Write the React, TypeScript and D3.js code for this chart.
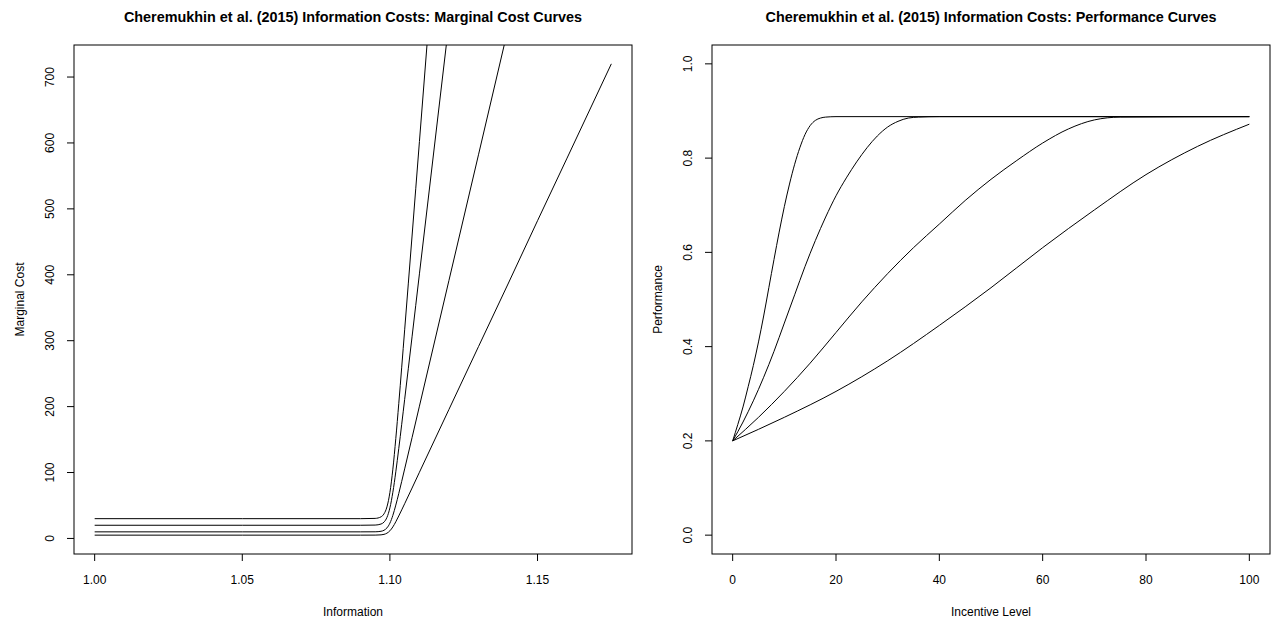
import React from "react";
import * as d3 from "d3";

// ---- Left panel data: marginal cost vs information ----
const infoGrid = [1.0, 1.05, 1.09, 1.095, 1.097, 1.098, 1.099, 1.1, 1.101, 1.102, 1.103, 1.105, 1.11, 1.12, 1.13, 1.14, 1.15, 1.16, 1.175];
const mcCurve5 = [5, 5, 5, 5.06, 5.46, 6.21, 7.99, 11.6, 17.5, 25.3, 34.1, 52.7, 100.4, 195.7, 291, 386, 482, 577, 720];
const mcCurve10 = [10, 10, 10, 10.1, 10.9, 12.4, 16.0, 23.2, 35.0, 50.6, 68.1, 105.5, 200.7, 391.4, 582, 773, 963, 1154, 1440];
const mcCurve20 = [20, 20, 20, 20.3, 21.9, 24.8, 31.9, 46.4, 70.1, 101.1, 136.3, 211, 401.4, 782.8, 1164, 1546, 1927, 2308, 2880];
const mcCurve30 = [30, 30, 30, 30.4, 32.8, 37.3, 47.9, 69.7, 105.1, 151.7, 204.4, 316.5, 602.1, 1174, 1746, 2318, 2890, 3462, 4320];
const infoTicks = [1.0, 1.05, 1.1, 1.15];
const mcTicks = [0, 100, 200, 300, 400, 500, 600, 700];

// ---- Right panel data: performance vs incentive ----
const perf1X = [0, 1, 2, 3, 4, 5, 6, 7, 8, 9, 10, 11, 12, 13, 14, 15, 16, 17, 18, 20, 100];
const perf1Y = [0.2, 0.235, 0.272, 0.315, 0.36, 0.41, 0.465, 0.525, 0.585, 0.643, 0.697, 0.745, 0.787, 0.822, 0.85, 0.869, 0.88, 0.885, 0.887, 0.888, 0.888];
const perf2X = [0, 2, 4, 6, 8, 10, 12, 14, 16, 18, 20, 22, 24, 26, 28, 30, 32, 34, 36, 40, 100];
const perf2Y = [0.2, 0.24, 0.285, 0.335, 0.39, 0.45, 0.51, 0.57, 0.625, 0.675, 0.72, 0.758, 0.792, 0.822, 0.847, 0.866, 0.878, 0.885, 0.887, 0.888, 0.888];
const perf3X = [0, 5, 10, 15, 20, 25, 30, 35, 40, 45, 50, 55, 60, 65, 70, 75, 100];
const perf3Y = [0.2, 0.25, 0.305, 0.365, 0.43, 0.495, 0.555, 0.61, 0.66, 0.71, 0.755, 0.795, 0.832, 0.862, 0.881, 0.887, 0.888];
const perf4X = [0, 10, 20, 30, 40, 50, 60, 70, 80, 90, 100];
const perf4Y = [0.2, 0.25, 0.305, 0.37, 0.445, 0.525, 0.61, 0.69, 0.765, 0.825, 0.872];
const incTicks = [0, 20, 40, 60, 80, 100];
const perfTicks = [0, 0.2, 0.4, 0.6, 0.8, 1.0];

const FONT = "'Liberation Sans', Arial, Helvetica, sans-serif";
const TOP = 45;
const BOTTOM = 554;

type PanelProps = {
  id: string;
  left: number;
  right: number;
  xDomain: [number, number];
  yDomain: [number, number];
  xTicks: number[];
  yTicks: number[];
  xFmt: (v: number) => string;
  yFmt: (v: number) => string;
  title: string;
  xLabel: string;
  yLabel: string;
  series: { x: number[]; y: number[] }[];
};

function Panel(p: PanelProps) {
  const x = d3.scaleLinear().domain(p.xDomain).range([p.left, p.right]);
  const y = d3.scaleLinear().domain(p.yDomain).range([BOTTOM, TOP]);
  const line = d3
    .line<[number, number]>()
    .x((d) => x(d[0]))
    .y((d) => y(d[1]))
    .curve(d3.curveMonotoneX);
  const cx = (p.left + p.right) / 2;
  const cy = (TOP + BOTTOM) / 2;
  return (
    <g fontFamily={FONT}>
      <defs>
        <clipPath id={p.id}>
          <rect x={p.left} y={TOP} width={p.right - p.left} height={BOTTOM - TOP} />
        </clipPath>
      </defs>
      <text x={cx} y={22} textAnchor="middle" fontWeight="bold" fontSize={14.4} fill="#000">
        {p.title}
      </text>
      <g clipPath={`url(#${p.id})`}>
        {p.series.map((s, i) => (
          <path
            key={i}
            d={line(s.x.map((v, j) => [v, s.y[j]] as [number, number])) || ""}
            fill="none"
            stroke="#000"
            strokeWidth={1}
          />
        ))}
      </g>
      <rect x={p.left} y={TOP} width={p.right - p.left} height={BOTTOM - TOP} fill="none" stroke="#000" strokeWidth={1} />
      {p.xTicks.map((t) => (
        <g key={"x" + t}>
          <line x1={x(t)} x2={x(t)} y1={BOTTOM} y2={BOTTOM + 7} stroke="#000" />
          <text x={x(t)} y={BOTTOM + 30} textAnchor="middle" fontSize={12} fill="#000">
            {p.xFmt(t)}
          </text>
        </g>
      ))}
      {p.yTicks.map((t) => (
        <g key={"y" + t}>
          <line x1={p.left - 7} x2={p.left} y1={y(t)} y2={y(t)} stroke="#000" />
          <text
            transform={`translate(${p.left - 24.5},${y(t)}) rotate(-90)`}
            textAnchor="middle"
            dominantBaseline="central"
            fontSize={12}
            fill="#000"
          >
            {p.yFmt(t)}
          </text>
        </g>
      ))}
      <text x={cx} y={BOTTOM + 62} textAnchor="middle" fontSize={12} fill="#000">
        {p.xLabel}
      </text>
      <text
        transform={`translate(${p.left - 54},${cy}) rotate(-90)`}
        textAnchor="middle"
        dominantBaseline="central"
        fontSize={12}
        fill="#000"
      >
        {p.yLabel}
      </text>
    </g>
  );
}

export default function App() {
  const infoRange = 1.175 - 1.0;
  const mcMin = 5;
  const mcMax = 720;
  const mcR = mcMax - mcMin;
  return (
    <svg
      width={1276}
      height={624}
      style={{ position: "absolute", left: 0, top: 0, background: "#fff" }}
    >
      <rect width={1276} height={624} fill="#fff" />
      <Panel
        id="clipL"
        left={74}
        right={632}
        xDomain={[1.0 - 0.04 * infoRange, 1.175 + 0.04 * infoRange]}
        yDomain={[mcMin - 0.04 * mcR, mcMax + 0.04 * mcR]}
        xTicks={infoTicks}
        yTicks={mcTicks}
        xFmt={(v) => v.toFixed(2)}
        yFmt={(v) => String(v)}
        title="Cheremukhin et al. (2015) Information Costs: Marginal Cost Curves"
        xLabel="Information"
        yLabel="Marginal Cost"
        series={[
          { x: infoGrid, y: mcCurve5 },
          { x: infoGrid, y: mcCurve10 },
          { x: infoGrid, y: mcCurve20 },
          { x: infoGrid, y: mcCurve30 },
        ]}
      />
      <Panel
        id="clipR"
        left={712}
        right={1270}
        xDomain={[-4, 104]}
        yDomain={[-0.04, 1.04]}
        xTicks={incTicks}
        yTicks={perfTicks}
        xFmt={(v) => String(v)}
        yFmt={(v) => v.toFixed(1)}
        title="Cheremukhin et al. (2015) Information Costs: Performance Curves"
        xLabel="Incentive Level"
        yLabel="Performance"
        series={[
          { x: perf1X, y: perf1Y },
          { x: perf2X, y: perf2Y },
          { x: perf3X, y: perf3Y },
          { x: perf4X, y: perf4Y },
        ]}
      />
    </svg>
  );
}
